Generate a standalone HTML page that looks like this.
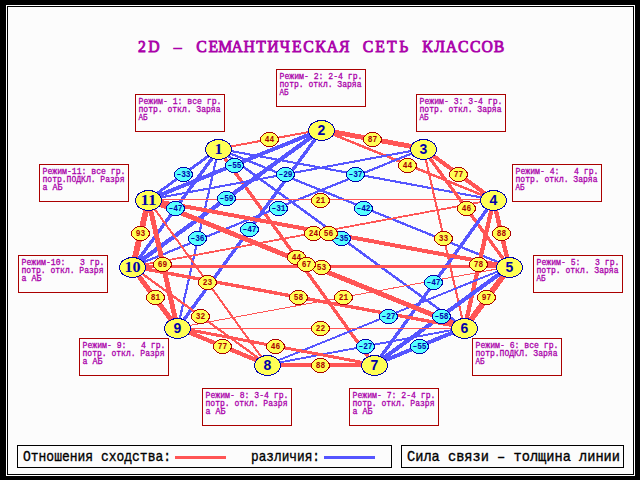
<!DOCTYPE html>
<html><head><meta charset="utf-8"><style>
html,body{margin:0;padding:0;background:#000;}
svg{display:block;}
.sm{font-family:"Liberation Mono",monospace;font-weight:normal;font-size:9px;fill:#aa00aa;stroke:#aa00aa;stroke-width:0.3px;}
.lb{font-family:"Liberation Mono",monospace;font-weight:bold;font-size:9px;stroke-width:0px;}
.nd{font-family:"Liberation Serif",serif;font-weight:bold;font-size:15px;fill:#0000aa;}
.nd2{font-family:"Liberation Sans",sans-serif;font-weight:bold;font-size:14px;fill:#0000aa;}
.tt{font-family:"Liberation Serif",serif;font-weight:normal;font-size:17.5px;fill:#aa00aa;stroke:#aa00aa;stroke-width:0.85px;}
.lg{font-family:"Liberation Mono",monospace;font-weight:normal;font-size:15px;stroke:#000;stroke-width:0.35px;-webkit-font-smoothing:antialiased;fill:#000;}
</style></head><body>
<svg width="640" height="480" viewBox="0 0 640 480">
<rect x="0" y="0" width="640" height="480" fill="#000"/>
<rect x="6" y="5" width="629" height="471" fill="#fff"/>
<rect x="7" y="6" width="627" height="469" fill="#000"/>
<rect x="8" y="7" width="625" height="467" fill="#fcfcfc"/>
<g transform="scale(0.9,1)"><text x="157.78 171.00 184.22 197.44 210.67 223.89 237.11 250.33 263.56 276.78 290.00 303.22 316.44 329.67 342.89 356.11 369.33 382.56 395.78 409.00 422.22 435.44 448.67 461.89 475.11 488.33 501.56 514.78 528.00 541.22 554.44" y="52" class="tt" text-anchor="middle">2D – СЕМАНТИЧЕСКАЯ СЕТЬ КЛАССОВ</text></g>
<rect x="135.5" y="94.5" width="89" height="37" fill="none" stroke="#aa0000" stroke-width="1"/><text x="138.5" y="104" class="sm" textLength="83" lengthAdjust="spacingAndGlyphs" xml:space="preserve">Режим- 1: все гр.</text><text x="138.5" y="112" class="sm" textLength="82" lengthAdjust="spacingAndGlyphs" xml:space="preserve">потр. откл. Заряа</text><text x="138.5" y="120" class="sm" textLength="9" lengthAdjust="spacingAndGlyphs" xml:space="preserve">АБ</text><rect x="276.5" y="69.5" width="89" height="37" fill="none" stroke="#aa0000" stroke-width="1"/><text x="279.5" y="79" class="sm" textLength="83" lengthAdjust="spacingAndGlyphs" xml:space="preserve">Режим- 2: 2-4 гр.</text><text x="279.5" y="87" class="sm" textLength="82" lengthAdjust="spacingAndGlyphs" xml:space="preserve">потр. откл. Заряа</text><text x="279.5" y="95" class="sm" textLength="9" lengthAdjust="spacingAndGlyphs" xml:space="preserve">АБ</text><rect x="416.5" y="94.5" width="89" height="37" fill="none" stroke="#aa0000" stroke-width="1"/><text x="419.5" y="104" class="sm" textLength="83" lengthAdjust="spacingAndGlyphs" xml:space="preserve">Режим- 3: 3-4 гр.</text><text x="419.5" y="112" class="sm" textLength="82" lengthAdjust="spacingAndGlyphs" xml:space="preserve">потр. откл. Заряа</text><text x="419.5" y="120" class="sm" textLength="9" lengthAdjust="spacingAndGlyphs" xml:space="preserve">АБ</text><rect x="512.5" y="164.5" width="89" height="37" fill="none" stroke="#aa0000" stroke-width="1"/><text x="515.5" y="174" class="sm" textLength="83" lengthAdjust="spacingAndGlyphs" xml:space="preserve">Режим- 4:   4 гр.</text><text x="515.5" y="182" class="sm" textLength="82" lengthAdjust="spacingAndGlyphs" xml:space="preserve">потр. откл. Заряа</text><text x="515.5" y="190" class="sm" textLength="9" lengthAdjust="spacingAndGlyphs" xml:space="preserve">АБ</text><rect x="533.5" y="255.5" width="89" height="37" fill="none" stroke="#aa0000" stroke-width="1"/><text x="536.5" y="265" class="sm" textLength="83" lengthAdjust="spacingAndGlyphs" xml:space="preserve">Режим- 5:   3 гр.</text><text x="536.5" y="273" class="sm" textLength="82" lengthAdjust="spacingAndGlyphs" xml:space="preserve">потр. откл. Заряа</text><text x="536.5" y="281" class="sm" textLength="9" lengthAdjust="spacingAndGlyphs" xml:space="preserve">АБ</text><rect x="472.5" y="338.5" width="89" height="37" fill="none" stroke="#aa0000" stroke-width="1"/><text x="475.5" y="348" class="sm" textLength="83" lengthAdjust="spacingAndGlyphs" xml:space="preserve">Режим- 6: все гр.</text><text x="475.5" y="356" class="sm" textLength="82" lengthAdjust="spacingAndGlyphs" xml:space="preserve">потр.ПОДКЛ. Заряа</text><text x="475.5" y="364" class="sm" textLength="9" lengthAdjust="spacingAndGlyphs" xml:space="preserve">АБ</text><rect x="349.5" y="388.5" width="89" height="37" fill="none" stroke="#aa0000" stroke-width="1"/><text x="352.5" y="398" class="sm" textLength="83" lengthAdjust="spacingAndGlyphs" xml:space="preserve">Режим- 7: 2-4 гр.</text><text x="352.5" y="406" class="sm" textLength="82" lengthAdjust="spacingAndGlyphs" xml:space="preserve">потр. откл. Разря</text><text x="352.5" y="414" class="sm" textLength="20" lengthAdjust="spacingAndGlyphs" xml:space="preserve">а АБ</text><rect x="202.5" y="388.5" width="89" height="37" fill="none" stroke="#aa0000" stroke-width="1"/><text x="205.5" y="398" class="sm" textLength="83" lengthAdjust="spacingAndGlyphs" xml:space="preserve">Режим- 8: 3-4 гр.</text><text x="205.5" y="406" class="sm" textLength="82" lengthAdjust="spacingAndGlyphs" xml:space="preserve">потр. откл. Разря</text><text x="205.5" y="414" class="sm" textLength="20" lengthAdjust="spacingAndGlyphs" xml:space="preserve">а АБ</text><rect x="79.5" y="338.5" width="89" height="37" fill="none" stroke="#aa0000" stroke-width="1"/><text x="82.5" y="348" class="sm" textLength="83" lengthAdjust="spacingAndGlyphs" xml:space="preserve">Режим- 9:   4 гр.</text><text x="82.5" y="356" class="sm" textLength="82" lengthAdjust="spacingAndGlyphs" xml:space="preserve">потр. откл. Разря</text><text x="82.5" y="364" class="sm" textLength="20" lengthAdjust="spacingAndGlyphs" xml:space="preserve">а АБ</text><rect x="18.5" y="255.5" width="89" height="37" fill="none" stroke="#aa0000" stroke-width="1"/><text x="21.5" y="265" class="sm" textLength="83" lengthAdjust="spacingAndGlyphs" xml:space="preserve">Режим-10:   3 гр.</text><text x="21.5" y="273" class="sm" textLength="82" lengthAdjust="spacingAndGlyphs" xml:space="preserve">потр. откл. Разря</text><text x="21.5" y="281" class="sm" textLength="20" lengthAdjust="spacingAndGlyphs" xml:space="preserve">а АБ</text><rect x="39.5" y="164.5" width="89" height="37" fill="none" stroke="#aa0000" stroke-width="1"/><text x="42.5" y="174" class="sm" textLength="83" lengthAdjust="spacingAndGlyphs" xml:space="preserve">Режим-11: все гр.</text><text x="42.5" y="182" class="sm" textLength="82" lengthAdjust="spacingAndGlyphs" xml:space="preserve">потр.ПОДКЛ. Разря</text><text x="42.5" y="190" class="sm" textLength="20" lengthAdjust="spacingAndGlyphs" xml:space="preserve">а АБ</text>
<line x1="218.50" y1="148.70" x2="321.50" y2="129.70" stroke="#ff5555" stroke-width="2.00" shape-rendering="crispEdges"/><line x1="218.50" y1="148.70" x2="493.50" y2="199.70" stroke="#5555ff" stroke-width="2.10" shape-rendering="crispEdges"/><line x1="218.50" y1="148.70" x2="509.50" y2="266.70" stroke="#5555ff" stroke-width="2.30" shape-rendering="crispEdges"/><line x1="218.50" y1="148.70" x2="464.50" y2="327.70" stroke="#5555ff" stroke-width="2.50" shape-rendering="crispEdges"/><line x1="218.50" y1="149.50" x2="374.50" y2="365.50" stroke="#ff5555" stroke-width="3.40" shape-rendering="crispEdges"/><line x1="218.50" y1="149.50" x2="177.50" y2="328.50" stroke="#5555ff" stroke-width="2.20" shape-rendering="crispEdges"/><line x1="218.50" y1="149.50" x2="132.50" y2="267.50" stroke="#5555ff" stroke-width="3.36" shape-rendering="crispEdges"/><line x1="218.50" y1="148.70" x2="148.50" y2="199.70" stroke="#5555ff" stroke-width="2.80" shape-rendering="crispEdges"/><line x1="321.50" y1="129.70" x2="423.50" y2="148.70" stroke="#ff5555" stroke-width="4.90" shape-rendering="crispEdges"/><line x1="321.50" y1="129.70" x2="493.50" y2="199.70" stroke="#ff5555" stroke-width="2.50" shape-rendering="crispEdges"/><line x1="321.50" y1="130.50" x2="177.50" y2="328.50" stroke="#5555ff" stroke-width="3.40" shape-rendering="crispEdges"/><line x1="321.50" y1="129.70" x2="132.50" y2="266.70" stroke="#5555ff" stroke-width="4.21" shape-rendering="crispEdges"/><line x1="321.50" y1="129.70" x2="148.50" y2="199.70" stroke="#5555ff" stroke-width="3.93" shape-rendering="crispEdges"/><line x1="423.50" y1="148.70" x2="493.50" y2="199.70" stroke="#ff5555" stroke-width="4.10" shape-rendering="crispEdges"/><line x1="423.50" y1="149.50" x2="509.50" y2="267.50" stroke="#ff5555" stroke-width="3.29" shape-rendering="crispEdges"/><line x1="423.50" y1="149.50" x2="464.50" y2="328.50" stroke="#ff5555" stroke-width="2.10" shape-rendering="crispEdges"/><line x1="423.50" y1="148.70" x2="132.50" y2="266.70" stroke="#5555ff" stroke-width="2.21" shape-rendering="crispEdges"/><line x1="423.50" y1="148.70" x2="148.50" y2="199.70" stroke="#5555ff" stroke-width="2.07" shape-rendering="crispEdges"/><line x1="493.50" y1="200.50" x2="509.50" y2="267.50" stroke="#ff5555" stroke-width="4.40" shape-rendering="crispEdges"/><line x1="493.50" y1="200.50" x2="464.50" y2="328.50" stroke="#ff5555" stroke-width="4.30" shape-rendering="crispEdges"/><line x1="493.50" y1="200.50" x2="374.50" y2="365.50" stroke="#5555ff" stroke-width="3.36" shape-rendering="crispEdges"/><line x1="493.50" y1="199.70" x2="132.50" y2="266.70" stroke="#ff5555" stroke-width="1.80" shape-rendering="crispEdges"/><line x1="493.50" y1="199.50" x2="148.50" y2="199.50" stroke="#ff5555" stroke-width="1.00" shape-rendering="crispEdges"/><line x1="509.50" y1="267.50" x2="464.50" y2="328.50" stroke="#ff5555" stroke-width="5.70" shape-rendering="crispEdges"/><line x1="509.50" y1="266.70" x2="374.50" y2="364.70" stroke="#5555ff" stroke-width="4.14" shape-rendering="crispEdges"/><line x1="509.50" y1="266.70" x2="267.50" y2="364.70" stroke="#5555ff" stroke-width="1.93" shape-rendering="crispEdges"/><line x1="509.50" y1="266.70" x2="177.50" y2="327.70" stroke="#ff5555" stroke-width="1.00" shape-rendering="crispEdges"/><line x1="509.50" y1="266.70" x2="132.50" y2="266.70" stroke="#ff5555" stroke-width="3.00" shape-rendering="crispEdges"/><line x1="509.50" y1="266.70" x2="148.50" y2="199.70" stroke="#ff5555" stroke-width="4.00" shape-rendering="crispEdges"/><line x1="464.50" y1="327.70" x2="374.50" y2="364.70" stroke="#5555ff" stroke-width="3.93" shape-rendering="crispEdges"/><line x1="464.50" y1="327.70" x2="267.50" y2="364.70" stroke="#5555ff" stroke-width="1.93" shape-rendering="crispEdges"/><line x1="464.50" y1="328.50" x2="177.50" y2="328.50" stroke="#ff5555" stroke-width="1.00" shape-rendering="crispEdges"/><line x1="464.50" y1="327.70" x2="132.50" y2="266.70" stroke="#ff5555" stroke-width="3.40" shape-rendering="crispEdges"/><line x1="464.50" y1="327.70" x2="148.50" y2="199.70" stroke="#ff5555" stroke-width="4.90" shape-rendering="crispEdges"/><line x1="374.50" y1="364.70" x2="267.50" y2="364.70" stroke="#ff5555" stroke-width="4.00" shape-rendering="crispEdges"/><line x1="374.50" y1="364.70" x2="177.50" y2="327.70" stroke="#ff5555" stroke-width="3.00" shape-rendering="crispEdges"/><line x1="267.50" y1="364.70" x2="177.50" y2="327.70" stroke="#ff5555" stroke-width="4.20" shape-rendering="crispEdges"/><line x1="267.50" y1="364.70" x2="132.50" y2="266.70" stroke="#ff5555" stroke-width="2.29" shape-rendering="crispEdges"/><line x1="267.50" y1="365.50" x2="148.50" y2="200.50" stroke="#ff5555" stroke-width="2.00" shape-rendering="crispEdges"/><line x1="177.50" y1="328.50" x2="132.50" y2="267.50" stroke="#ff5555" stroke-width="5.00" shape-rendering="crispEdges"/><line x1="177.50" y1="328.50" x2="148.50" y2="200.50" stroke="#ff5555" stroke-width="4.93" shape-rendering="crispEdges"/><line x1="132.50" y1="267.50" x2="148.50" y2="200.50" stroke="#ff5555" stroke-width="5.85" shape-rendering="crispEdges"/><ellipse cx="269.5" cy="139.5" rx="9" ry="7" fill="#ffff55" stroke="#aa0000" stroke-width="1" shape-rendering="crispEdges"/><text x="269.5" y="141.9" class="lb" fill="#aa0000" stroke="#aa0000" text-anchor="middle" textLength="9.4" lengthAdjust="spacingAndGlyphs">44</text><ellipse cx="355.5" cy="174.5" rx="9" ry="7" fill="#55ffff" stroke="#0000aa" stroke-width="1" shape-rendering="crispEdges"/><text x="355.5" y="176.9" class="lb" fill="#0000aa" stroke="#0000aa" text-anchor="middle" textLength="14.1" lengthAdjust="spacingAndGlyphs">–37</text><ellipse cx="363.5" cy="208.5" rx="9" ry="7" fill="#55ffff" stroke="#0000aa" stroke-width="1" shape-rendering="crispEdges"/><text x="363.5" y="210.9" class="lb" fill="#0000aa" stroke="#0000aa" text-anchor="middle" textLength="14.1" lengthAdjust="spacingAndGlyphs">–42</text><ellipse cx="341.5" cy="238.5" rx="9" ry="7" fill="#55ffff" stroke="#0000aa" stroke-width="1" shape-rendering="crispEdges"/><text x="341.5" y="240.9" class="lb" fill="#0000aa" stroke="#0000aa" text-anchor="middle" textLength="14.1" lengthAdjust="spacingAndGlyphs">–35</text><ellipse cx="296.5" cy="257.5" rx="9" ry="7" fill="#ffff55" stroke="#aa0000" stroke-width="1" shape-rendering="crispEdges"/><text x="296.5" y="259.9" class="lb" fill="#aa0000" stroke="#aa0000" text-anchor="middle" textLength="9.4" lengthAdjust="spacingAndGlyphs">44</text><ellipse cx="197.5" cy="238.5" rx="9" ry="7" fill="#55ffff" stroke="#0000aa" stroke-width="1" shape-rendering="crispEdges"/><text x="197.5" y="240.9" class="lb" fill="#0000aa" stroke="#0000aa" text-anchor="middle" textLength="14.1" lengthAdjust="spacingAndGlyphs">–36</text><ellipse cx="175.5" cy="208.5" rx="9" ry="7" fill="#55ffff" stroke="#0000aa" stroke-width="1" shape-rendering="crispEdges"/><text x="175.5" y="210.9" class="lb" fill="#0000aa" stroke="#0000aa" text-anchor="middle" textLength="14.1" lengthAdjust="spacingAndGlyphs">–47</text><ellipse cx="183.5" cy="174.5" rx="9" ry="7" fill="#55ffff" stroke="#0000aa" stroke-width="1" shape-rendering="crispEdges"/><text x="183.5" y="176.9" class="lb" fill="#0000aa" stroke="#0000aa" text-anchor="middle" textLength="14.1" lengthAdjust="spacingAndGlyphs">–33</text><ellipse cx="372.5" cy="139.5" rx="9" ry="7" fill="#ffff55" stroke="#aa0000" stroke-width="1" shape-rendering="crispEdges"/><text x="372.5" y="141.9" class="lb" fill="#aa0000" stroke="#aa0000" text-anchor="middle" textLength="9.4" lengthAdjust="spacingAndGlyphs">87</text><ellipse cx="407.5" cy="165.5" rx="9" ry="7" fill="#ffff55" stroke="#aa0000" stroke-width="1" shape-rendering="crispEdges"/><text x="407.5" y="167.9" class="lb" fill="#aa0000" stroke="#aa0000" text-anchor="middle" textLength="9.4" lengthAdjust="spacingAndGlyphs">44</text><ellipse cx="249.5" cy="229.5" rx="9" ry="7" fill="#55ffff" stroke="#0000aa" stroke-width="1" shape-rendering="crispEdges"/><text x="249.5" y="231.9" class="lb" fill="#0000aa" stroke="#0000aa" text-anchor="middle" textLength="14.1" lengthAdjust="spacingAndGlyphs">–47</text><ellipse cx="226.5" cy="198.5" rx="9" ry="7" fill="#55ffff" stroke="#0000aa" stroke-width="1" shape-rendering="crispEdges"/><text x="226.5" y="200.9" class="lb" fill="#0000aa" stroke="#0000aa" text-anchor="middle" textLength="14.1" lengthAdjust="spacingAndGlyphs">–59</text><ellipse cx="234.5" cy="165.5" rx="9" ry="7" fill="#55ffff" stroke="#0000aa" stroke-width="1" shape-rendering="crispEdges"/><text x="234.5" y="167.9" class="lb" fill="#0000aa" stroke="#0000aa" text-anchor="middle" textLength="14.1" lengthAdjust="spacingAndGlyphs">–55</text><ellipse cx="458.5" cy="174.5" rx="9" ry="7" fill="#ffff55" stroke="#aa0000" stroke-width="1" shape-rendering="crispEdges"/><text x="458.5" y="176.9" class="lb" fill="#aa0000" stroke="#aa0000" text-anchor="middle" textLength="9.4" lengthAdjust="spacingAndGlyphs">77</text><ellipse cx="466.5" cy="208.5" rx="9" ry="7" fill="#ffff55" stroke="#aa0000" stroke-width="1" shape-rendering="crispEdges"/><text x="466.5" y="210.9" class="lb" fill="#aa0000" stroke="#aa0000" text-anchor="middle" textLength="9.4" lengthAdjust="spacingAndGlyphs">46</text><ellipse cx="443.5" cy="238.5" rx="9" ry="7" fill="#ffff55" stroke="#aa0000" stroke-width="1" shape-rendering="crispEdges"/><text x="443.5" y="240.9" class="lb" fill="#aa0000" stroke="#aa0000" text-anchor="middle" textLength="9.4" lengthAdjust="spacingAndGlyphs">33</text><ellipse cx="278.5" cy="208.5" rx="9" ry="7" fill="#55ffff" stroke="#0000aa" stroke-width="1" shape-rendering="crispEdges"/><text x="278.5" y="210.9" class="lb" fill="#0000aa" stroke="#0000aa" text-anchor="middle" textLength="14.1" lengthAdjust="spacingAndGlyphs">–31</text><ellipse cx="285.5" cy="174.5" rx="9" ry="7" fill="#55ffff" stroke="#0000aa" stroke-width="1" shape-rendering="crispEdges"/><text x="285.5" y="176.9" class="lb" fill="#0000aa" stroke="#0000aa" text-anchor="middle" textLength="14.1" lengthAdjust="spacingAndGlyphs">–29</text><ellipse cx="501.5" cy="233.5" rx="9" ry="7" fill="#ffff55" stroke="#aa0000" stroke-width="1" shape-rendering="crispEdges"/><text x="501.5" y="235.9" class="lb" fill="#aa0000" stroke="#aa0000" text-anchor="middle" textLength="9.4" lengthAdjust="spacingAndGlyphs">88</text><ellipse cx="478.5" cy="264.5" rx="9" ry="7" fill="#ffff55" stroke="#aa0000" stroke-width="1" shape-rendering="crispEdges"/><text x="478.5" y="266.9" class="lb" fill="#aa0000" stroke="#aa0000" text-anchor="middle" textLength="9.4" lengthAdjust="spacingAndGlyphs">78</text><ellipse cx="433.5" cy="282.5" rx="9" ry="7" fill="#55ffff" stroke="#0000aa" stroke-width="1" shape-rendering="crispEdges"/><text x="433.5" y="284.9" class="lb" fill="#0000aa" stroke="#0000aa" text-anchor="middle" textLength="14.1" lengthAdjust="spacingAndGlyphs">–47</text><ellipse cx="313.5" cy="233.5" rx="9" ry="7" fill="#ffff55" stroke="#aa0000" stroke-width="1" shape-rendering="crispEdges"/><text x="313.5" y="235.9" class="lb" fill="#aa0000" stroke="#aa0000" text-anchor="middle" textLength="9.4" lengthAdjust="spacingAndGlyphs">24</text><ellipse cx="320.5" cy="200.5" rx="9" ry="7" fill="#ffff55" stroke="#aa0000" stroke-width="1" shape-rendering="crispEdges"/><text x="320.5" y="202.9" class="lb" fill="#aa0000" stroke="#aa0000" text-anchor="middle" textLength="9.4" lengthAdjust="spacingAndGlyphs">21</text><ellipse cx="486.5" cy="297.5" rx="9" ry="7" fill="#ffff55" stroke="#aa0000" stroke-width="1" shape-rendering="crispEdges"/><text x="486.5" y="299.9" class="lb" fill="#aa0000" stroke="#aa0000" text-anchor="middle" textLength="9.4" lengthAdjust="spacingAndGlyphs">97</text><ellipse cx="441.5" cy="316.5" rx="9" ry="7" fill="#55ffff" stroke="#0000aa" stroke-width="1" shape-rendering="crispEdges"/><text x="441.5" y="318.9" class="lb" fill="#0000aa" stroke="#0000aa" text-anchor="middle" textLength="14.1" lengthAdjust="spacingAndGlyphs">–58</text><ellipse cx="388.5" cy="316.5" rx="9" ry="7" fill="#55ffff" stroke="#0000aa" stroke-width="1" shape-rendering="crispEdges"/><text x="388.5" y="318.9" class="lb" fill="#0000aa" stroke="#0000aa" text-anchor="middle" textLength="14.1" lengthAdjust="spacingAndGlyphs">–27</text><ellipse cx="343.5" cy="297.5" rx="9" ry="7" fill="#ffff55" stroke="#aa0000" stroke-width="1" shape-rendering="crispEdges"/><text x="343.5" y="299.9" class="lb" fill="#aa0000" stroke="#aa0000" text-anchor="middle" textLength="9.4" lengthAdjust="spacingAndGlyphs">21</text><ellipse cx="321.5" cy="267.5" rx="9" ry="7" fill="#ffff55" stroke="#aa0000" stroke-width="1" shape-rendering="crispEdges"/><text x="321.5" y="269.9" class="lb" fill="#aa0000" stroke="#aa0000" text-anchor="middle" textLength="9.4" lengthAdjust="spacingAndGlyphs">53</text><ellipse cx="328.5" cy="233.5" rx="9" ry="7" fill="#ffff55" stroke="#aa0000" stroke-width="1" shape-rendering="crispEdges"/><text x="328.5" y="235.9" class="lb" fill="#aa0000" stroke="#aa0000" text-anchor="middle" textLength="9.4" lengthAdjust="spacingAndGlyphs">56</text><ellipse cx="419.5" cy="346.5" rx="9" ry="7" fill="#55ffff" stroke="#0000aa" stroke-width="1" shape-rendering="crispEdges"/><text x="419.5" y="348.9" class="lb" fill="#0000aa" stroke="#0000aa" text-anchor="middle" textLength="14.1" lengthAdjust="spacingAndGlyphs">–55</text><ellipse cx="365.5" cy="346.5" rx="9" ry="7" fill="#55ffff" stroke="#0000aa" stroke-width="1" shape-rendering="crispEdges"/><text x="365.5" y="348.9" class="lb" fill="#0000aa" stroke="#0000aa" text-anchor="middle" textLength="14.1" lengthAdjust="spacingAndGlyphs">–27</text><ellipse cx="320.5" cy="328.5" rx="9" ry="7" fill="#ffff55" stroke="#aa0000" stroke-width="1" shape-rendering="crispEdges"/><text x="320.5" y="330.9" class="lb" fill="#aa0000" stroke="#aa0000" text-anchor="middle" textLength="9.4" lengthAdjust="spacingAndGlyphs">22</text><ellipse cx="298.5" cy="297.5" rx="9" ry="7" fill="#ffff55" stroke="#aa0000" stroke-width="1" shape-rendering="crispEdges"/><text x="298.5" y="299.9" class="lb" fill="#aa0000" stroke="#aa0000" text-anchor="middle" textLength="9.4" lengthAdjust="spacingAndGlyphs">58</text><ellipse cx="306.5" cy="264.5" rx="9" ry="7" fill="#ffff55" stroke="#aa0000" stroke-width="1" shape-rendering="crispEdges"/><text x="306.5" y="266.9" class="lb" fill="#aa0000" stroke="#aa0000" text-anchor="middle" textLength="9.4" lengthAdjust="spacingAndGlyphs">67</text><ellipse cx="320.5" cy="365.5" rx="9" ry="7" fill="#ffff55" stroke="#aa0000" stroke-width="1" shape-rendering="crispEdges"/><text x="320.5" y="367.9" class="lb" fill="#aa0000" stroke="#aa0000" text-anchor="middle" textLength="9.4" lengthAdjust="spacingAndGlyphs">88</text><ellipse cx="275.5" cy="346.5" rx="9" ry="7" fill="#ffff55" stroke="#aa0000" stroke-width="1" shape-rendering="crispEdges"/><text x="275.5" y="348.9" class="lb" fill="#aa0000" stroke="#aa0000" text-anchor="middle" textLength="9.4" lengthAdjust="spacingAndGlyphs">46</text><ellipse cx="222.5" cy="346.5" rx="9" ry="7" fill="#ffff55" stroke="#aa0000" stroke-width="1" shape-rendering="crispEdges"/><text x="222.5" y="348.9" class="lb" fill="#aa0000" stroke="#aa0000" text-anchor="middle" textLength="9.4" lengthAdjust="spacingAndGlyphs">77</text><ellipse cx="200.5" cy="316.5" rx="9" ry="7" fill="#ffff55" stroke="#aa0000" stroke-width="1" shape-rendering="crispEdges"/><text x="200.5" y="318.9" class="lb" fill="#aa0000" stroke="#aa0000" text-anchor="middle" textLength="9.4" lengthAdjust="spacingAndGlyphs">32</text><ellipse cx="207.5" cy="282.5" rx="9" ry="7" fill="#ffff55" stroke="#aa0000" stroke-width="1" shape-rendering="crispEdges"/><text x="207.5" y="284.9" class="lb" fill="#aa0000" stroke="#aa0000" text-anchor="middle" textLength="9.4" lengthAdjust="spacingAndGlyphs">23</text><ellipse cx="155.5" cy="297.5" rx="9" ry="7" fill="#ffff55" stroke="#aa0000" stroke-width="1" shape-rendering="crispEdges"/><text x="155.5" y="299.9" class="lb" fill="#aa0000" stroke="#aa0000" text-anchor="middle" textLength="9.4" lengthAdjust="spacingAndGlyphs">81</text><ellipse cx="162.5" cy="264.5" rx="9" ry="7" fill="#ffff55" stroke="#aa0000" stroke-width="1" shape-rendering="crispEdges"/><text x="162.5" y="266.9" class="lb" fill="#aa0000" stroke="#aa0000" text-anchor="middle" textLength="9.4" lengthAdjust="spacingAndGlyphs">69</text><ellipse cx="140.5" cy="233.5" rx="9" ry="7" fill="#ffff55" stroke="#aa0000" stroke-width="1" shape-rendering="crispEdges"/><text x="140.5" y="235.9" class="lb" fill="#aa0000" stroke="#aa0000" text-anchor="middle" textLength="9.4" lengthAdjust="spacingAndGlyphs">93</text><ellipse cx="218.5" cy="149.5" rx="13" ry="10" fill="#ffff55" stroke="#0000aa" stroke-width="1" shape-rendering="crispEdges"/><text x="218.5" y="154.1" class="nd" text-anchor="middle" textLength="8" lengthAdjust="spacingAndGlyphs">1</text><ellipse cx="321.5" cy="130.5" rx="13" ry="10" fill="#ffff55" stroke="#0000aa" stroke-width="1" shape-rendering="crispEdges"/><text x="321.5" y="135.3" class="nd2" text-anchor="middle">2</text><ellipse cx="423.5" cy="149.5" rx="13" ry="10" fill="#ffff55" stroke="#0000aa" stroke-width="1" shape-rendering="crispEdges"/><text x="423.5" y="154.3" class="nd2" text-anchor="middle">3</text><ellipse cx="493.5" cy="200.5" rx="13" ry="10" fill="#ffff55" stroke="#0000aa" stroke-width="1" shape-rendering="crispEdges"/><text x="493.5" y="205.3" class="nd2" text-anchor="middle">4</text><ellipse cx="509.5" cy="267.5" rx="13" ry="10" fill="#ffff55" stroke="#0000aa" stroke-width="1" shape-rendering="crispEdges"/><text x="509.5" y="272.3" class="nd2" text-anchor="middle">5</text><ellipse cx="464.5" cy="328.5" rx="13" ry="10" fill="#ffff55" stroke="#0000aa" stroke-width="1" shape-rendering="crispEdges"/><text x="464.5" y="333.3" class="nd2" text-anchor="middle">6</text><ellipse cx="374.5" cy="365.5" rx="13" ry="10" fill="#ffff55" stroke="#0000aa" stroke-width="1" shape-rendering="crispEdges"/><text x="374.5" y="370.3" class="nd2" text-anchor="middle">7</text><ellipse cx="267.5" cy="365.5" rx="13" ry="10" fill="#ffff55" stroke="#0000aa" stroke-width="1" shape-rendering="crispEdges"/><text x="267.5" y="370.3" class="nd2" text-anchor="middle">8</text><ellipse cx="177.5" cy="328.5" rx="13" ry="10" fill="#ffff55" stroke="#0000aa" stroke-width="1" shape-rendering="crispEdges"/><text x="177.5" y="333.3" class="nd2" text-anchor="middle">9</text><ellipse cx="132.5" cy="267.5" rx="13" ry="10" fill="#ffff55" stroke="#0000aa" stroke-width="1" shape-rendering="crispEdges"/><text x="132.5" y="272.1" class="nd" text-anchor="middle" textLength="16" lengthAdjust="spacingAndGlyphs">10</text><ellipse cx="148.5" cy="200.5" rx="13" ry="10" fill="#ffff55" stroke="#0000aa" stroke-width="1" shape-rendering="crispEdges"/><text x="148.5" y="205.1" class="nd" text-anchor="middle" textLength="16" lengthAdjust="spacingAndGlyphs">11</text>
<rect x="17.5" y="445.5" width="374" height="22" fill="none" stroke="#000" stroke-width="1"/>
<rect x="401.5" y="445.5" width="222" height="22" fill="none" stroke="#000" stroke-width="1"/>
<text x="23" y="461" class="lg" textLength="148" lengthAdjust="spacingAndGlyphs">Отношения сходства:</text>
<rect x="175" y="456" width="51" height="3" fill="#ff5555"/>
<text x="251" y="461" class="lg" textLength="69" lengthAdjust="spacingAndGlyphs">различия:</text>
<rect x="324" y="456" width="51" height="3" fill="#5555ff"/>
<text x="407" y="461" class="lg" textLength="213" lengthAdjust="spacingAndGlyphs">Сила связи – толщина линии</text>
</svg>
</body></html>
